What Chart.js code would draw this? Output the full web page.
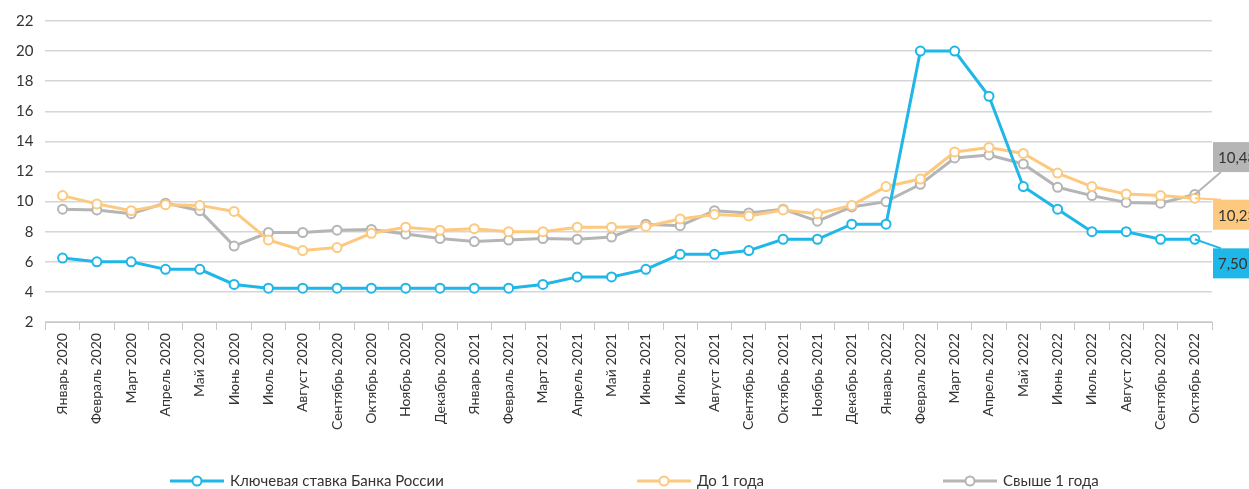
<!DOCTYPE html>
<html>
<head>
<meta charset="utf-8">
<script src="https://cdn.jsdelivr.net/npm/chart.js@4"></script>
<style>
    html, body { margin: 0; padding: 0; background: #fff; }
    #wrap { width: 1249px; height: 489px; }
</style>
</head>
<body>
<div id="wrap"><canvas id="rateChart"></canvas></div>
<script>
const months = ['Январь 2020', 'Февраль 2020', 'Март 2020', 'Апрель 2020', 'Май 2020', 'Июнь 2020', 'Июль 2020', 'Август 2020', 'Сентябрь 2020', 'Октябрь 2020', 'Ноябрь 2020', 'Декабрь 2020',
    'Январь 2021', 'Февраль 2021', 'Март 2021', 'Апрель 2021', 'Май 2021', 'Июнь 2021', 'Июль 2021', 'Август 2021', 'Сентябрь 2021', 'Октябрь 2021', 'Ноябрь 2021', 'Декабрь 2021',
    'Январь 2022', 'Февраль 2022', 'Март 2022', 'Апрель 2022', 'Май 2022', 'Июнь 2022', 'Июль 2022', 'Август 2022', 'Сентябрь 2022', 'Октябрь 2022'];
const keyRate = [6.25, 6.0, 6.0, 5.5, 5.5, 4.5, 4.25, 4.25, 4.25, 4.25, 4.25, 4.25, 4.25, 4.25, 4.5, 5.0, 5.0, 5.5, 6.5, 6.5, 6.75, 7.5, 7.5, 8.5, 8.5, 20, 20, 17, 11, 9.5, 8, 8, 7.5, 7.5];
const upTo1Year = [10.4, 9.85, 9.4, 9.8, 9.75, 9.35, 7.45, 6.75, 6.95, 7.9, 8.3, 8.1, 8.2, 8.0, 8.0, 8.3, 8.3, 8.35, 8.85, 9.15, 9.05, 9.45, 9.2, 9.75, 11.0, 11.5, 13.3, 13.6, 13.2, 11.9, 11.0, 10.5, 10.4, 10.23];
const over1Year = [9.5, 9.45, 9.2, 9.9, 9.4, 7.05, 7.95, 7.95, 8.1, 8.15, 7.85, 7.55, 7.35, 7.45, 7.55, 7.5, 7.65, 8.5, 8.4, 9.4, 9.25, 9.5, 8.7, 9.65, 10.0, 11.15, 12.9, 13.1, 12.5, 10.95, 10.4, 9.95, 9.9, 10.48];
const seriesNames = ['Ключевая ставка Банка России', 'До 1 года', 'Свыше 1 года'];
const lastLabels = ['7,50', '10,23', '10,48'];

const colors = ['#1fb6e8', '#fcc97f', '#b5b5b5'];
const fontFamily = 'Lato, "Open Sans", sans-serif';

// ярлыки последних значений справа (центр ярлыка в единицах оси Y)
const calloutLevels = [5.9, 9.13, 12.96];

const calloutPlugin = {
    id: 'callouts',
    afterDatasetsDraw(chart) {
        const ctx = chart.ctx;
        const yScale = chart.scales.y;
        const right = chart.chartArea.right;
        ctx.save();
        chart.data.datasets.forEach((ds, i) => {
            const meta = chart.getDatasetMeta(i);
            const pt = meta.data[meta.data.length - 1];
            const cy = yScale.getPixelForValue(calloutLevels[i]);
            const bx = right + 1, bw = 40, bh = 30;
            ctx.strokeStyle = colors[i];
            ctx.lineWidth = 2;
            ctx.beginPath();
            ctx.moveTo(pt.x, pt.y);
            ctx.lineTo(bx + 8, cy + (cy > pt.y ? -bh / 2 : bh / 2));
            ctx.stroke();
            ctx.fillStyle = colors[i];
            ctx.fillRect(bx, cy - bh / 2, bw, bh);
            ctx.fillStyle = '#333';
            ctx.font = '15px ' + fontFamily;
            ctx.textBaseline = 'middle';
            ctx.fillText(lastLabels[i], bx + 5, cy + 1);
        });
        ctx.restore();
    },
    afterDraw(chart) {
        // легенда внизу: линия с кружком
        const ctx = chart.ctx;
        const items = [170, 637, 943];
        const y = 481;
        ctx.save();
        items.forEach((x, i) => {
            ctx.strokeStyle = colors[i];
            ctx.lineWidth = 3;
            ctx.beginPath();
            ctx.moveTo(x, y);
            ctx.lineTo(x + 54, y);
            ctx.stroke();
            ctx.beginPath();
            ctx.arc(x + 27, y, 4.5, 0, Math.PI * 2);
            ctx.fillStyle = '#fff';
            ctx.fill();
            ctx.lineWidth = 2;
            ctx.stroke();
            ctx.fillStyle = '#333';
            ctx.font = '15px ' + fontFamily;
            ctx.textBaseline = 'middle';
            ctx.fillText(seriesNames[i], x + 60, y);
        });
        ctx.restore();
    }
};

function makeDataset(label, data, color) {
    return {
        label: label,
        data: data,
        borderColor: color,
        backgroundColor: '#fff',
        borderWidth: 3,
        pointRadius: 4.5,
        pointBorderWidth: 2,
        pointBackgroundColor: '#fff',
        pointBorderColor: color,
        tension: 0,
    };
}

new Chart(document.getElementById('rateChart').getContext('2d'), {
    type: 'line',
    data: {
        labels: months,
        datasets: [
            makeDataset(seriesNames[0], keyRate, colors[0]),
            makeDataset(seriesNames[1], upTo1Year, colors[1]),
            makeDataset(seriesNames[2], over1Year, colors[2]),
        ],
    },
    plugins: [calloutPlugin],
    options: {
        responsive: true,
        maintainAspectRatio: false,
        animation: false,
        layout: { padding: { left: 4, right: 37, top: 10, bottom: 56 } },
        plugins: {
            legend: { display: false },
            tooltip: { enabled: false },
        },
        scales: {
            x: {
                offset: true,
                grid: { drawOnChartArea: false, offset: true, tickLength: 8, color: '#c8c8c8' },
                border: { color: '#c8c8c8' },
                ticks: {
                    color: '#333',
                    font: { family: fontFamily, size: 14 },
                    maxRotation: 90,
                    minRotation: 90,
                    autoSkip: false,
                },
            },
            y: {
                min: 2,
                max: 22,
                ticks: {
                    stepSize: 2,
                    color: '#333',
                    padding: 12,
                    font: { family: fontFamily, size: 15 },
                },
                grid: { color: '#d6d6d6', lineWidth: 1.5, drawTicks: false },
                border: { display: false },
            },
        },
    },
});
</script>
</body>
</html>
